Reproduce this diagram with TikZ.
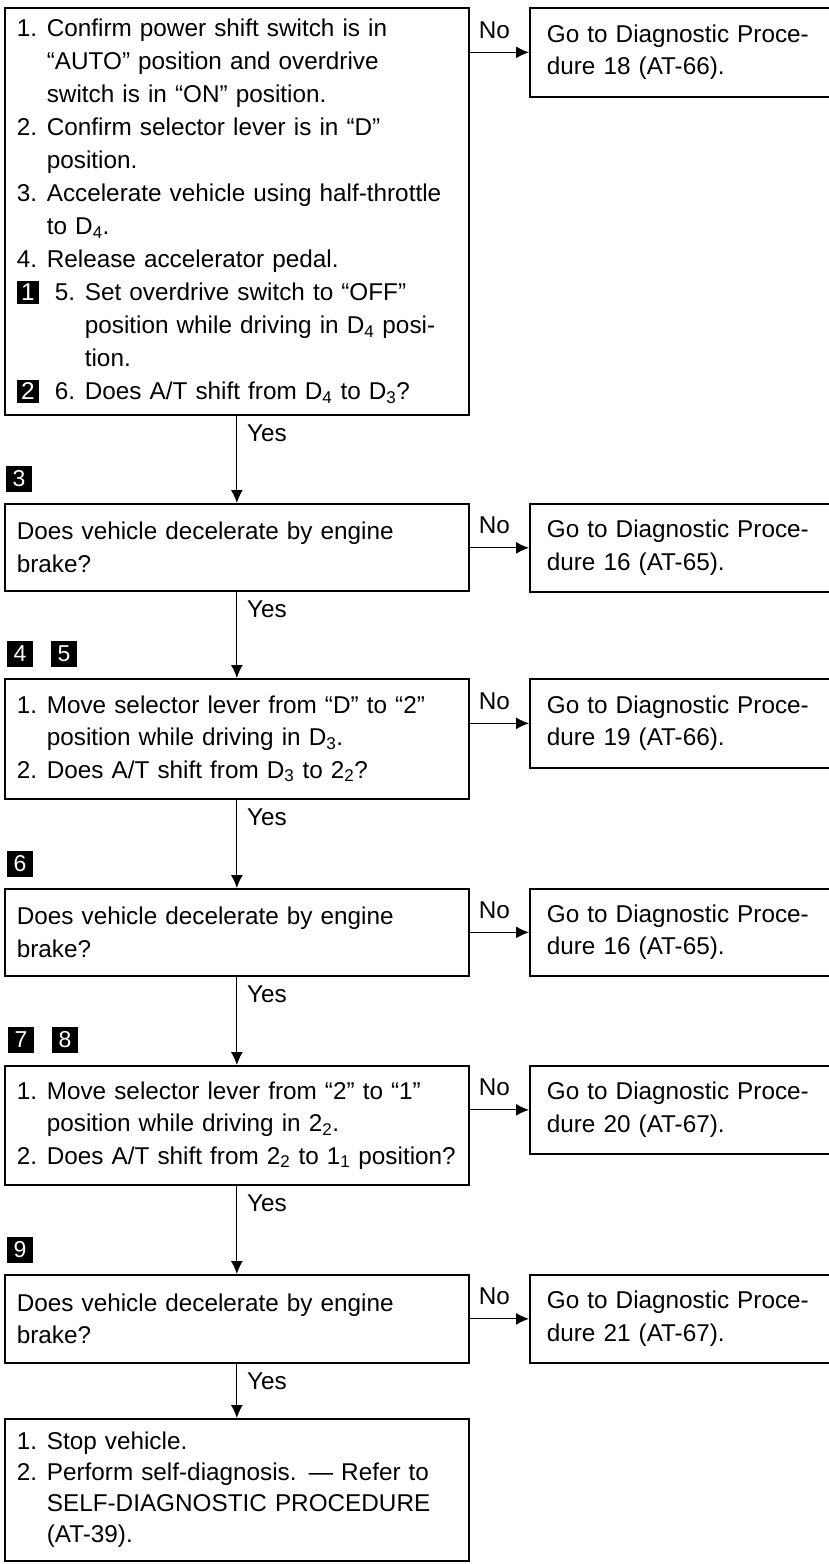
\documentclass[tikz,border=0pt]{standalone}
\usepackage{fontspec}
\setmainfont{Liberation Sans}
\usepackage{xcolor}
\usetikzlibrary{arrows.meta}
\newcommand{\stepno}[1]{\makebox[30pt][l]{#1}}
\newcommand{\hangin}[1][30pt]{\hspace*{#1}}
\newcommand{\ibadge}[1]{{\setlength{\fboxsep}{0pt}\colorbox{black}{\makebox[22pt]{\rule[-3pt]{0pt}{23pt}\textcolor{white}{#1}}}}}
\newcommand{\sub}[1]{\textsubscript{#1}}

\begin{document}
\begin{tikzpicture}[x=1pt,y=-1pt,
    box/.style={draw,line width=1.7pt,anchor=north west,align=left,inner xsep=12pt,inner ysep=0pt,
      text width=440pt,font=\fontsize{24.3}{32.5}\selectfont},
    gobox/.style={box,inner xsep=17pt,text width=290pt},
    badge/.style={fill=black,text=white,minimum size=26pt,inner sep=0pt,font=\fontsize{23}{23}\selectfont},
    conn/.style={line width=1.2pt,-{Latex[length=13pt,width=12pt]}},
    lbl/.style={font=\fontsize{24.3}{24}\selectfont,inner sep=0pt,anchor=base west}]
  \useasboundingbox (0,0) rectangle (829,1564);

  % questions
  \node[box,minimum height=407pt,font=\fontsize{24.3}{33}\selectfont] (q1) at (4,7)
    {\stepno{1.}Confirm power shift switch is in\\
     \hangin``AUTO'' position and overdrive\\
     \hangin switch is in ``ON'' position.\\
     \stepno{2.}Confirm selector lever is in ``D''\\
     \hangin position.\\
     \stepno{3.}Accelerate vehicle using half-throttle\\
     \hangin to D\sub{4}.\\
     \stepno{4.}Release accelerator pedal.\\
     \makebox[38pt][l]{\ibadge{1}}\stepno{5.}Set overdrive switch to ``OFF''\\
     \hangin[68pt]position while driving in D\sub{4} posi-\\
     \hangin[68pt]tion.\\
     \makebox[38pt][l]{\ibadge{2}}\stepno{6.}Does A/T shift from D\sub{4} to D\sub{3}?};
  \node[box,minimum height=87pt] (q2) at (4,503)
    {Does vehicle decelerate by engine\\ brake?};
  \node[box,minimum height=120pt] (q3) at (4,678)
    {\stepno{1.}Move selector lever from ``D'' to ``2''\\
     \hangin position while driving in D\sub{3}.\\
     \stepno{2.}Does A/T shift from D\sub{3} to 2\sub{2}?};
  \node[box,minimum height=87pt] (q4) at (4,888)
    {Does vehicle decelerate by engine\\ brake?};
  \node[box,minimum height=119pt] (q5) at (4,1065)
    {\stepno{1.}Move selector lever from ``2'' to ``1''\\
     \hangin position while driving in 2\sub{2}.\\
     \stepno{2.}Does A/T shift from 2\sub{2} to 1\sub{1} position?};
  \node[box,minimum height=88pt] (q6) at (4,1274)
    {Does vehicle decelerate by engine\\ brake?};
  \node[box,minimum height=142pt,font=\fontsize{24.3}{31}\selectfont] (q7) at (4,1418)
    {\stepno{1.}Stop vehicle.\\
     \stepno{2.}Perform self-diagnosis. --- Refer to\\
     \hangin SELF-DIAGNOSTIC PROCEDURE\\
     \hangin(AT-39).};

  % diagnostic procedures
  \node[gobox,minimum height=89pt] (g1) at (529,7) {Go to Diagnostic Proce-\\ dure 18 (AT-66).};
  \node[gobox,minimum height=88pt] (g2) at (529,503) {Go to Diagnostic Proce-\\ dure 16 (AT-65).};
  \node[gobox,minimum height=89pt] (g3) at (529,678) {Go to Diagnostic Proce-\\ dure 19 (AT-66).};
  \node[gobox,minimum height=87pt] (g4) at (529,888) {Go to Diagnostic Proce-\\ dure 16 (AT-65).};
  \node[gobox,minimum height=88pt] (g5) at (529,1065) {Go to Diagnostic Proce-\\ dure 20 (AT-67).};
  \node[gobox,minimum height=88pt] (g6) at (529,1274) {Go to Diagnostic Proce-\\ dure 21 (AT-67).};

  % step badges
  \node[badge] (b3) at (19,479) {3};
  \node[badge] (b4) at (20,654) {4};
  \node[badge] (b5) at (64,654) {5};
  \node[badge] (b6) at (20,864) {6};
  \node[badge] (b7) at (21,1040) {7};
  \node[badge] (b8) at (65,1040) {8};
  \node[badge] (b9) at (20,1250) {9};

  \foreach \i in {1,...,6}{
    \pgfmathtruncatemacro\j{\i+1}
    \draw[conn] (q\i.south) -- (q\j.north);
    \node[lbl] (yes\i) at ([xshift=10pt,yshift=-26pt]q\i.south) {Yes};
    \coordinate (n\i) at (q\i.east |- g\i.west);
    \draw[conn] (n\i) -- (g\i.west);
    \node[lbl] (no\i) at ([xshift=9pt,yshift=14pt]n\i) {No};
  }
\end{tikzpicture}
\end{document}
